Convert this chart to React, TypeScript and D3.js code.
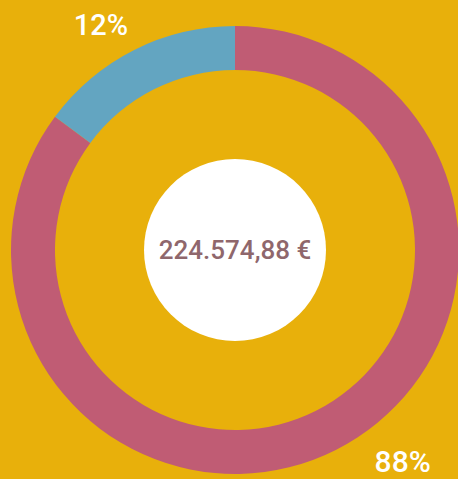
import React from "react";
import * as d3 from "d3";

const categories = ["Pink", "Blue"];
const values = [85.14, 14.86];
const percentLabels = ["88%", "12%"];
const totalLabel = "224.574,88 €";
const colors = ["#C05C74", "#63A5C1"];

const W = 458;
const H = 479;
const cx = 235;
const cy = 250;
const outerR = 224;
const innerR = 180;
const centerR = 91;
// label placement: angle (deg clockwise from top), radius and font size for each slice label
const labelPos = [
  { angle: 141.6, r: 270, size: 30 },
  { angle: -30.8, r: 262, size: 29 },
];

export default function App() {
  const pie = d3.pie<number>().sort(null).value((d) => d);
  const arcs = pie(values);
  const arc = d3.arc<d3.PieArcDatum<number>>().innerRadius(innerR).outerRadius(outerR);
  return (
    <div style={{ position: "fixed", left: 0, top: 0, width: W, height: H }}>
      <svg width={W} height={H} style={{ display: "block" }}>
        <rect width={W} height={H} fill="#E8B00B" />
        <g transform={`translate(${cx},${cy})`}>
          {arcs.map((a, i) => (
            <path key={categories[i]} d={arc(a) || ""} fill={colors[i]} />
          ))}
          <circle r={centerR} fill="#FFFFFF" />
          <text
            y={0}
            dy="0.36em"
            textAnchor="middle"
            fontFamily="Roboto"
            fontWeight={500}
            fontSize={26}
            fill="#8F676C"
          >
            {totalLabel}
          </text>
          {labelPos.map((p, i) => {
            const rad = (p.angle * Math.PI) / 180;
            return (
              <text
                key={percentLabels[i]}
                x={Math.sin(rad) * p.r}
                y={-Math.cos(rad) * p.r}
                dy="0.36em"
                textAnchor="middle"
                fontFamily="Roboto"
                fontWeight={500}
                fontSize={p.size}
                fill="#FFFFFF"
              >
                {percentLabels[i]}
              </text>
            );
          })}
        </g>
      </svg>
    </div>
  );
}
